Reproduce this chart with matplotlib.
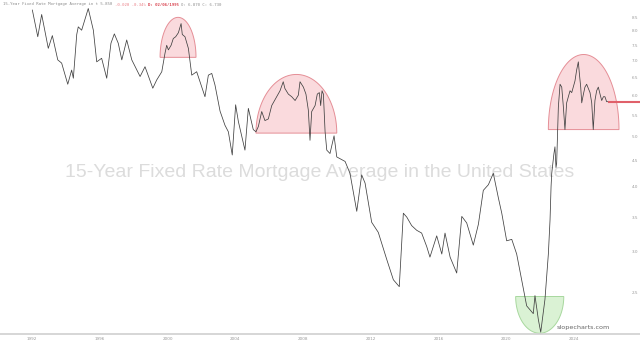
import numpy as np
import matplotlib
matplotlib.use('Agg')
from matplotlib import pyplot as plt
from matplotlib.patches import Polygon
from matplotlib.ticker import NullLocator, NullFormatter

# weekly 15y fixed mortgage rate (decimal year, %)
dates = [1992.02, 1992.34, 1992.57, 1992.96, 1993.20, 1993.52, 1993.75, 1994.11, 1994.34, 1994.44,
         1994.64, 1994.73, 1994.93, 1995.32, 1995.62, 1995.82, 1996.11, 1996.41, 1996.66, 1996.86,
         1997.09, 1997.30, 1997.59, 1997.89, 1998.38, 1998.67, 1999.13, 1999.36, 1999.66, 1999.85,
         1999.95, 2000.05, 2000.21, 2000.34, 2000.48, 2000.64, 2000.80, 2000.87, 2001.03, 2001.23,
         2001.43, 2001.72, 2002.21, 2002.41, 2002.61, 2002.80, 2003.10, 2003.39, 2003.59, 2003.82,
         2004.02, 2004.18, 2004.57, 2004.77, 2005.06, 2005.22, 2005.36, 2005.56, 2005.75, 2005.95,
         2006.15, 2006.44, 2006.64, 2006.83, 2006.93, 2007.13, 2007.33, 2007.53, 2007.72, 2007.82,
         2008.02, 2008.17, 2008.31, 2008.41, 2008.51, 2008.71, 2008.84, 2008.96, 2009.04, 2009.12,
         2009.20, 2009.30, 2009.40, 2009.59, 2009.83, 2009.99, 2010.48, 2010.77, 2011.17, 2011.46,
         2011.66, 2012.05, 2012.44, 2012.94, 2013.33, 2013.68, 2013.92, 2014.12, 2014.41, 2014.71,
         2015.00, 2015.30, 2015.49, 2015.89, 2016.19, 2016.38, 2016.68, 2017.07, 2017.37, 2017.66,
         2018.05, 2018.35, 2018.64, 2018.94, 2019.23, 2019.53, 2019.73, 2020.02, 2020.32, 2020.61,
         2020.91, 2021.20, 2021.59, 2021.69, 2021.89, 2022.03, 2022.28, 2022.48, 2022.58, 2022.64,
         2022.68, 2022.81, 2022.87, 2022.93, 2022.97, 2023.03, 2023.07, 2023.17, 2023.27, 2023.36,
         2023.46, 2023.56, 2023.66, 2023.76, 2023.86, 2023.95, 2024.05, 2024.15, 2024.25, 2024.31,
         2024.39, 2024.45, 2024.55, 2024.64, 2024.74, 2024.84, 2024.94, 2025.04, 2025.13, 2025.23,
         2025.33, 2025.43, 2025.53, 2025.63, 2025.73, 2025.82, 2025.92, 2026.02]
rates = [8.77, 7.79, 8.60, 7.40, 7.83, 7.03, 6.93, 6.31, 6.72, 6.48,
         7.87, 8.14, 8.02, 8.83, 8.02, 6.97, 7.08, 6.48, 7.57, 7.89,
         7.57, 7.03, 7.68, 7.03, 6.53, 6.82, 6.20, 6.43, 6.67, 7.24,
         7.50, 7.35, 7.50, 7.73, 7.79, 7.93, 8.26, 7.87, 7.79, 7.40,
         6.57, 6.67, 5.97, 6.57, 6.62, 6.29, 5.60, 5.26, 5.11, 4.61,
         5.76, 5.35, 4.71, 5.67, 5.16, 5.11, 5.23, 5.59, 5.37, 5.41,
         5.74, 5.97, 6.13, 6.38, 6.19, 6.04, 5.97, 5.87, 6.01, 6.38,
         6.23, 6.04, 5.63, 4.92, 5.59, 5.74, 6.04, 6.08, 5.74, 6.13,
         6.04, 5.11, 4.71, 4.64, 5.02, 4.57, 4.48, 4.25, 3.59, 4.22,
         4.07, 3.42, 3.27, 2.90, 2.65, 2.57, 3.56, 3.50, 3.37, 3.30,
         3.26, 3.07, 2.93, 3.22, 2.97, 3.26, 2.93, 2.73, 3.51, 3.41,
         3.09, 3.39, 3.94, 4.04, 4.25, 3.81, 3.56, 3.15, 3.17, 2.97,
         2.64, 2.36, 2.28, 2.47, 2.22, 2.10, 2.43, 2.97, 3.46, 4.01,
         4.25, 4.64, 4.78, 4.36, 4.44, 5.16, 5.70, 6.31, 6.23, 5.74,
         5.16, 5.81, 5.97, 6.13, 6.08, 6.23, 6.40, 6.72, 6.97, 6.62,
         6.23, 5.81, 6.04, 6.23, 6.31, 6.19, 6.08, 5.81, 5.16, 5.87,
         6.13, 6.23, 6.04, 5.87, 5.97, 5.97, 5.84, 5.84]

y_ticks = [2.5, 3.0, 3.5, 4.0, 4.5, 5.0, 5.5, 6.0, 6.5, 7.0, 7.5, 8.0, 8.5]
y_labels = ['2.5', '3.0', '3.5', '4.0', '4.5', '5.0', '5.5', '6.0', '6.5', '7.0', '7.5', '8.0', '8.5']
x_ticks = [1992, 1996, 2000, 2004, 2008, 2012, 2016, 2020, 2024]
x_labels = ['1992', '1996', '2000', '2004', '2008', '2012', '2016', '2020', '2024']

title = "15-Year Fixed Rate Mortgage Average in the United States"
header = [("15-Year Fixed Rate Mortgage Average in t 5.850 ", '#8c8c8c', 'normal'),
          ("-0.020 -0.34% ", '#ea7f86', 'normal'),
          ("D: 02/06/1995 ", '#d9434f', 'bold'),
          ("O: 6.870 C: 6.730", '#8c8c8c', 'normal')]

# drawn highlight zones: (start, end, base rate, tip rate)
domes = [(1999.56, 2001.68, 7.11, 8.49),
         (2005.22, 2009.99, 5.08, 6.59),
         (2022.48, 2026.65, 5.16, 7.20)]
bowls = [(2020.55, 2023.39, 2.46, 2.09)]

fig = plt.figure(figsize=(6.4, 3.45), dpi=100)
ax = fig.add_axes([0, 11/345, 1, 334/345])
ax.set_yscale('log')
ax.set_xlim(1990.11, 2027.89)
ax.set_ylim(2.083, 9.17)


def half_ellipse(x0, x1, base, tip, fc, ec):
    to_ax = ax.transData + ax.transAxes.inverted()
    (a0, b0), (a1, b1) = to_ax.transform([(x0, base), (x1, tip)])
    t = np.linspace(0, np.pi, 80)
    cx = (a0 + a1) / 2
    pts = np.column_stack([cx + (a1 - a0) / 2 * np.cos(t), b0 + (b1 - b0) * np.sin(t)])
    ax.add_patch(Polygon(pts, closed=True, transform=ax.transAxes,
                         facecolor=fc, edgecolor=ec, lw=0.7, zorder=1))


for d in domes:
    half_ellipse(*d, fc='#fadadd', ec='#e58e96')
for b in bowls:
    half_ellipse(*b, fc='#daf2d4', ec='#a8d89e')

ax.text(0.5, 1 - 172/345, title, transform=fig.transFigure, ha='center', va='center',
        fontsize=14, color='#dcdcdc', family='Liberation Sans', zorder=0)

ax.plot(dates, rates, color='#404040', lw=0.55, zorder=3)
ax.hlines(rates[-1], dates[-1], ax.get_xlim()[1], color='#e0606a', lw=1.5, zorder=4)

for s in ['top', 'left', 'right']:
    ax.spines[s].set_visible(False)
ax.spines['bottom'].set_color('#d0d0d0')
ax.spines['bottom'].set_linewidth(1.2)

ax.set_xticks(x_ticks, x_labels)
ax.tick_params(axis='x', length=0, labelsize=3, labelcolor='#999999', pad=2.5)
ax.yaxis.set_minor_locator(NullLocator())
ax.yaxis.set_minor_formatter(NullFormatter())
ax.set_yticks(y_ticks, y_labels)
ax.yaxis.tick_right()
ax.tick_params(axis='y', length=0, labelsize=3, labelcolor='#999999', pad=-6)

prev = fig.text(3/640, 1 - 4.5/345, header[0][0], fontsize=2.9, family='DejaVu Sans Mono',
                color=header[0][1], va='center', ha='left')
for txt, col, wt in header[1:]:
    prev = ax.annotate(txt, xy=(1, 0.5), xycoords=prev, va='center', ha='left',
                       fontsize=2.9, family='DejaVu Sans Mono', color=col, fontweight=wt)

fig.text(583/640, 1 - 328/345, 'slopecharts.com', ha='center', va='center',
         fontsize=4.6, color='#666666')

fig.savefig('out.png', dpi=100)
